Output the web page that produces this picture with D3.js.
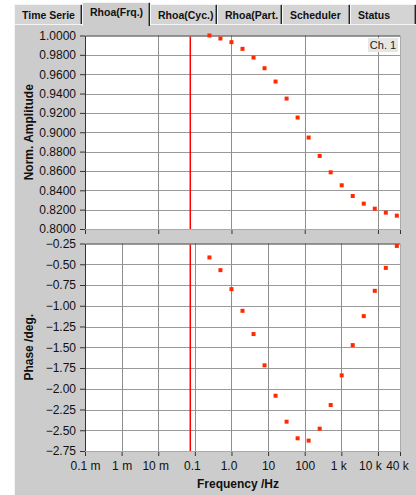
<!DOCTYPE html>
<html>
<head>
<meta charset="UTF-8">
<title>Rhoa(Frq.)</title>
<script src="https://d3js.org/d3.v7.min.js"></script>
<style>
    body { margin: 0; background: #fff; }
    svg { display: block; font-family: 'Liberation Sans', Arial, sans-serif; }
    .tick text { font-size: 12px; fill: #111; }
    .title { font-size: 12px; font-weight: bold; fill: #111; }
</style>
</head>
<body>
<svg width="416" height="495"></svg>
<script>
    // data
    let tabs = ["Time Serie", "Rhoa(Frq.)", "Rhoa(Cyc.)", "Rhoa(Part.", "Scheduler", "Status"];
    let freqs = [0.25, 0.5, 1, 2, 4, 8, 16, 32, 64, 128, 256, 512, 1024, 2048, 4096, 8192, 16384, 32768];
    let amplitude = [1.0000, 0.9969, 0.9931, 0.9862, 0.9772, 0.9662, 0.9524, 0.9348, 0.9152,
        0.8945, 0.8755, 0.8586, 0.8452, 0.8341, 0.8262, 0.8210, 0.8169, 0.8138];
    let phase = [-0.418, -0.571, -0.800, -1.061, -1.341, -1.718, -2.084, -2.397, -2.597,
        -2.625, -2.481, -2.196, -1.839, -1.474, -1.125, -0.820, -0.544, -0.279];
    let markerFreq = 0.075;
    let xTicks = [1e-4, 1e-3, 1e-2, 0.1, 1, 10, 100, 1e3, 1e4, 4e4];
    let xTickLabels = ["0.1 m", "1 m", "10 m", "0.1", "1.0", "10", "100", "1 k", "10 k", "40 k"];
    let xGridTop = [1e-2, 1, 100, 1e4];
    let xGridBottom = [1e-3, 1e-2, 0.1, 1, 10, 100, 1e3, 1e4];
    let ampTicks = d3.range(0, 11).map(i => 0.8 + i * 0.02);
    let phaseTicks = d3.range(0, 11).map(i => -2.75 + i * 0.25);

    // small nudges so the crowded right-hand labels don't collide
    let labelNudge = [0, 0, -3, -3, -3, 0, 0, -3, -8, -3];

    let svg = d3.select("svg");

    // panel
    svg.append("rect").attr("x", 14).attr("y", 24).attr("width", 402).attr("height", 471).attr("fill", "#cccccc");
    svg.append("line").attr("x1", 14.5).attr("x2", 14.5).attr("y1", 24).attr("y2", 495).attr("stroke", "#f4f4f4");
    svg.append("line").attr("x1", 14).attr("x2", 416).attr("y1", 24.5).attr("y2", 24.5).attr("stroke", "#f4f4f4");

    // tabs
    let tabX = [14, 82, 150, 217, 282, 350, 416];
    let tabG = svg.append("g");
    tabs.forEach((t, i) => {
        let sel = i === 1;
        let x0 = tabX[i], x1 = tabX[i + 1];
        let y0 = sel ? 2 : 4, y1 = sel ? 26 : 24;
        let g = tabG.append("g");
        let clipId = "tabclip" + i;
        g.append("clipPath").attr("id", clipId).append("rect")
            .attr("x", x0 + 2).attr("y", y0).attr("width", x1 - x0 - 5).attr("height", y1 - y0);
        g.append("rect").attr("x", x0).attr("y", y0).attr("width", x1 - x0).attr("height", y1 - y0)
            .attr("fill", sel ? "#cccccc" : "#d4d4d4");
        g.append("path").attr("d", `M${x0 + 0.5},${y1}V${y0 + 0.5}H${x1 - 1}`).attr("stroke", "#f6f6f6").attr("fill", "none");
        g.append("line").attr("x1", x1 - 0.5).attr("x2", x1 - 0.5).attr("y1", y0 + 1).attr("y2", y1)
            .attr("stroke", "#222");
        g.append("line").attr("x1", x1 - 1.5).attr("x2", x1 - 1.5).attr("y1", y0 + 1).attr("y2", y1)
            .attr("stroke", "#888");
        g.append("text").attr("x", x0 + 8).attr("y", sel ? 16 : 19)
            .attr("clip-path", `url(#${clipId})`)
            .attr("font-size", "10.5px").attr("font-weight", "bold").attr("fill", "#111")
            .text(t);
    });

    let x = d3.scaleLog().domain([1e-4, 4e4]).range([85, 400]);
    let yA = d3.scaleLinear().domain([0.8, 1.0]).range([229, 35.5]);
    let yP = d3.scaleLinear().domain([-2.75, -0.25]).range([451, 243.5]);

    function panel(y, yTicks, fmt, xGrid, values, title, showLabels, axisTicks) {
        let top = y.range()[1], bottom = y.range()[0];
        let left = x.range()[0], right = x.range()[1];
        let g = svg.append("g");
        g.append("rect").attr("x", left).attr("y", top).attr("width", right - left).attr("height", bottom - top)
            .attr("fill", "#fff");

        g.selectAll(".hg").data(yTicks.slice(1, -1)).enter().append("line")
            .attr("x1", left).attr("x2", right)
            .attr("y1", d => Math.round(y(d)) + 0.5).attr("y2", d => Math.round(y(d)) + 0.5)
            .attr("stroke", "#9a9a9a");
        g.selectAll(".vg").data(xGrid).enter().append("line")
            .attr("x1", d => Math.round(x(d)) + 0.5).attr("x2", d => Math.round(x(d)) + 0.5)
            .attr("y1", top).attr("y2", bottom)
            .attr("stroke", "#8e8e8e");

        // frame
        g.append("path").attr("d", `M${left + 0.5},${bottom}V${top + 0.5}H${right}`)
            .attr("stroke", "#333").attr("fill", "none");
        g.append("path").attr("d", `M${right + 0.5},${top}V${bottom + 0.5}H${left}`)
            .attr("stroke", "#aaa").attr("fill", "none");

        // marker line
        g.append("line").attr("x1", x(markerFreq)).attr("x2", x(markerFreq))
            .attr("y1", top + 1).attr("y2", bottom).attr("stroke", "#ff0000").attr("stroke-width", 1.5);

        // points
        g.selectAll(".pt").data(freqs).enter().append("rect")
            .attr("x", d => x(d) - 2).attr("y", (d, i) => y(values[i]) - 2)
            .attr("width", 4).attr("height", 4).attr("fill", "#ff2a00");

        // y axis
        let ya = g.append("g").attr("transform", `translate(${left},0)`)
            .call(d3.axisLeft(y).tickValues(yTicks).tickFormat(fmt).tickSize(5).tickSizeOuter(0));
        ya.select(".domain").remove();
        ya.selectAll("line").attr("stroke", "#333");
        ya.selectAll("text").attr("dx", "-1");

        // x axis
        let xa = g.append("g").attr("transform", `translate(0,${bottom + 1})`)
            .call(d3.axisBottom(x).tickValues(axisTicks).tickSize(4).tickSizeOuter(0)
                .tickFormat((d, i) => showLabels ? xTickLabels[i] : ""));
        xa.select(".domain").remove();
        xa.selectAll("line").attr("stroke", "#333");
        xa.selectAll("text").attr("dy", "0.95em").attr("dx", (d, i) => labelNudge[i]);

        svg.append("text").attr("class", "title")
            .attr("transform", `translate(33,${(top + bottom) / 2}) rotate(-90)`)
            .attr("text-anchor", "middle").text(title);
    }

    panel(yA, ampTicks, d3.format(".4f"), xGridTop, amplitude, "Norm. Amplitude", false,
        [1e-4, 1e-2, 1, 100, 1e4, 4e4]);
    panel(yP, phaseTicks, d3.format(".2f"), xGridBottom, phase, "Phase /deg.", true, xTicks);

    // channel label
    svg.append("rect").attr("x", 368).attr("y", 38).attr("width", 30).attr("height", 14).attr("fill", "#e6e6e6");
    svg.append("text").attr("x", 383).attr("y", 49).attr("text-anchor", "middle")
        .attr("font-size", "11px").attr("fill", "#222").text("Ch. 1");

    svg.append("text").attr("class", "title").attr("x", 238).attr("y", 488)
        .attr("text-anchor", "middle").text("Frequency /Hz");
</script>
</body>
</html>
